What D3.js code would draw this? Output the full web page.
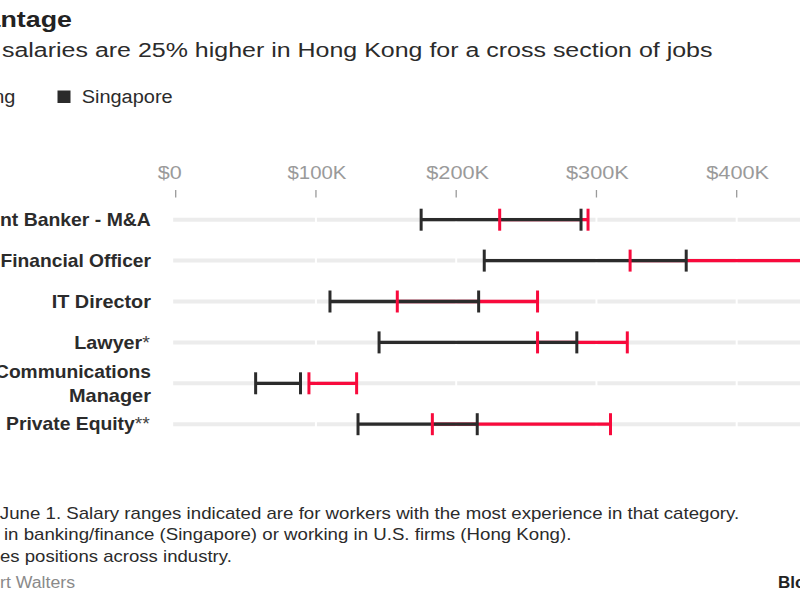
<!DOCTYPE html>
<html><head><meta charset="utf-8">
<script src="https://cdn.jsdelivr.net/npm/d3@7"></script>
<style>
html,body{margin:0;padding:0;background:#fff;overflow:hidden;}
svg{display:block;font-family:"Liberation Sans",Arial,Helvetica,sans-serif;}
</style></head>
<body>
<svg id="c" width="800" height="600"></svg>
<script>
const categories = ["Investment Banker - M&A", "Chief Financial Officer", "IT Director", "Lawyer*", "Communications Manager", "Private Equity**"];
const sgMin = [175, 220, 110, 145, 57, 130];
const sgMax = [289, 364, 216, 286, 89, 215];
const hkMin = [231, 324, 158, 258, 95, 183];
const hkMax = [294, 520, 258, 322, 129, 310];
const tickValues = [0, 100, 200, 300, 400, 500];
const tickLabels = ["$0", "$100K", "$200K", "$300K", "$400K", "$500K"];
const seriesNames = ["Hong Kong", "Singapore"];
const title = "Hong Kong's Advantage";
const subtitle = "Executive salaries are 25% higher in Hong Kong for a cross section of jobs";
const footnotes = [
  "Note: Data as of June 1. Salary ranges indicated are for workers with the most experience in that category.",
  "* Working in banking/finance (Singapore) or working in U.S. firms (Hong Kong).",
  "** Includes positions across industry."
];
const source = "Source: Robert Walters";

const RED = "#f80a3c", BLACK = "#2b2b2b";
const svg = d3.select("#c");
const x = d3.scaleLinear().domain([0, 100]).range([175.7, 315.95]);
const y = d3.scalePoint().domain(categories).range([219.7, 424.2]);

// Draw text so the characters from index `vis` on span [x0, x1] (horizontal stretch to fit).
function fitText(parent, segs, o) {
  const g = parent.append("g");
  const t = g.append("text").attr("x", 0).attr("y", o.y)
    .attr("font-size", o.size).attr("font-weight", o.weight || "normal").attr("fill", o.fill || "#2b2b2b");
  segs.forEach(s => {
    const sp = t.append("tspan").text(s.t);
    if (s.weight) sp.attr("font-weight", s.weight);
    if (s.fill) sp.attr("fill", s.fill);
  });
  const node = t.node();
  const n = segs.map(s => s.t).join("").length;
  const vis = o.vis || 0;
  const s0 = node.getStartPositionOfChar(vis).x;
  const w = node.getEndPositionOfChar(n - 1).x - s0;
  let sx, x0;
  if (o.sx) { sx = o.sx; x0 = o.x0 != null ? o.x0 : o.x1 - sx * w; }
  else { sx = (o.x1 - o.x0) / w; x0 = o.x0; }
  t.attr("x", -s0);
  g.attr("transform", `translate(${x0},0) scale(${sx},1)`);
  g.datum(sx);
  return g;
}

// Title / subtitle
fitText(svg, [{t: title}], {y: 27, size: 22.5, weight: "bold", fill: "#222", vis: title.indexOf("ntage"), x0: 0.5, x1: 72});
fitText(svg, [{t: subtitle}], {y: 57, size: 21, vis: subtitle.indexOf("salaries"), x0: 2, x1: 713});

// Legend
const sg = fitText(svg, [{t: seriesNames[1]}], {y: 102.7, size: 19, x0: 81.7, x1: 172.7});
fitText(svg, [{t: seriesNames[0]}], {y: 102.7, size: 19, vis: 7, sx: sg.datum(), x1: 15.5});
svg.append("rect").attr("x", -92).attr("y", 90.5).attr("width", 13).attr("height", 12.5).attr("fill", RED);
svg.append("rect").attr("x", 57.5).attr("y", 90.5).attr("width", 13).attr("height", 12.5).attr("fill", BLACK);

// Axis
const tickW = [24, 59, 63, 63, 63, 63];
const tickShift = [-6, 1, 1.5, 1, 1, 1];
tickValues.forEach((v, i) => {
  const cx = x(v) + tickShift[i];
  fitText(svg, [{t: tickLabels[i]}], {y: 179, size: 18.5, fill: "#9a9a9a", x0: cx - tickW[i] / 2, x1: cx + tickW[i] / 2});
});
svg.append("g").selectAll("line").data(tickValues).join("line")
  .attr("x1", d => x(d)).attr("x2", d => x(d)).attr("y1", 190).attr("y2", 197.5)
  .attr("stroke", "#9a9a9a").attr("stroke-width", 1.3);

// Grid segments
const segs = [];
categories.forEach(c => {
  tickValues.forEach((t, i) => {
    const x1 = i === 0 ? x(t) - 2.5 : x(t) + 1;
    const x2 = x(t + 100) - 1;
    segs.push({c, x1, x2});
  });
});
svg.append("g").selectAll("line").data(segs).join("line")
  .attr("x1", d => d.x1).attr("x2", d => d.x2)
  .attr("y1", d => y(d.c)).attr("y2", d => y(d.c))
  .attr("stroke", "#ececec").attr("stroke-width", 4);

// Category labels
const lab = svg.append("g");
const labStart = {"Investment Banker - M&A": [0, "nt Banker"], "Chief Financial Officer": [0.5, "Financial"], "IT Director": [51.7, null], "Lawyer*": [74.3, null], "Private Equity**": [6, null]};
categories.forEach(c => {
  const yy = y(c);
  if (c === "Communications Manager") {
    fitText(lab, [{t: "Communications"}], {y: yy - 5.5, size: 18, weight: "bold", x0: -5, x1: 151});
    fitText(lab, [{t: "Manager"}], {y: yy + 18.5, size: 18, weight: "bold", x0: 69, x1: 151});
  } else {
    const m = c.match(/^(.*?)(\**)$/);
    const parts = [{t: m[1]}];
    if (m[2]) parts.push({t: m[2], weight: "normal", fill: "#444"});
    const st = labStart[c];
    const vis = st[1] ? c.indexOf(st[1]) : 0;
    fitText(lab, parts, {y: yy + 6.3, size: 18, weight: "bold", vis, x0: st[0], x1: m[2] ? 150 : 151});
  }
});

// Range bars
const rows = categories.map((c, i) => ({c, s0: sgMin[i], s1: sgMax[i], h0: hkMin[i], h1: hkMax[i]}));
const g = svg.append("g");
const capH = 11;
g.selectAll("line.hl").data(rows).join("line").attr("class", "hl")
  .attr("x1", d => x(d.h0)).attr("x2", d => x(d.h1)).attr("y1", d => y(d.c)).attr("y2", d => y(d.c))
  .attr("stroke", RED).attr("stroke-width", 3.3);
g.selectAll("line.sl").data(rows).join("line").attr("class", "sl")
  .attr("x1", d => x(d.s0)).attr("x2", d => x(d.s1)).attr("y1", d => y(d.c)).attr("y2", d => y(d.c))
  .attr("stroke", BLACK).attr("stroke-width", 3.3);
const sCaps = rows.flatMap(d => [{c: d.c, v: d.s0}, {c: d.c, v: d.s1}]);
const hCaps = rows.flatMap(d => [{c: d.c, v: d.h0}, {c: d.c, v: d.h1}]);
g.selectAll("line.sc").data(sCaps).join("line").attr("class", "sc")
  .attr("x1", d => x(d.v)).attr("x2", d => x(d.v)).attr("y1", d => y(d.c) - capH).attr("y2", d => y(d.c) + capH)
  .attr("stroke", BLACK).attr("stroke-width", 3);
g.selectAll("line.hc").data(hCaps).join("line").attr("class", "hc")
  .attr("x1", d => x(d.v)).attr("x2", d => x(d.v)).attr("y1", d => y(d.c) - capH).attr("y2", d => y(d.c) + capH)
  .attr("stroke", RED).attr("stroke-width", 3);

// Footnotes
const fVis = ["June 1.", "in banking", "es positions"];
const fy = [519, 540.5, 562];
const fx0 = [0, 4, 0];
const fx1 = [740, 572, 232];
footnotes.forEach((f, i) => {
  fitText(svg, [{t: f}], {y: fy[i], size: 16, vis: f.indexOf(fVis[i]), x0: fx0[i], x1: fx1[i]});
});
fitText(svg, [{t: source}], {y: 588, size: 16, fill: "#8a8a8a", vis: source.indexOf("rt Walters"), x0: 0, x1: 75});
svg.append("text").attr("x", 778).attr("y", 587.5)
  .attr("font-size", 17).attr("font-weight", "bold").attr("fill", "#222").text("Bloomberg");
</script>
</body></html>
